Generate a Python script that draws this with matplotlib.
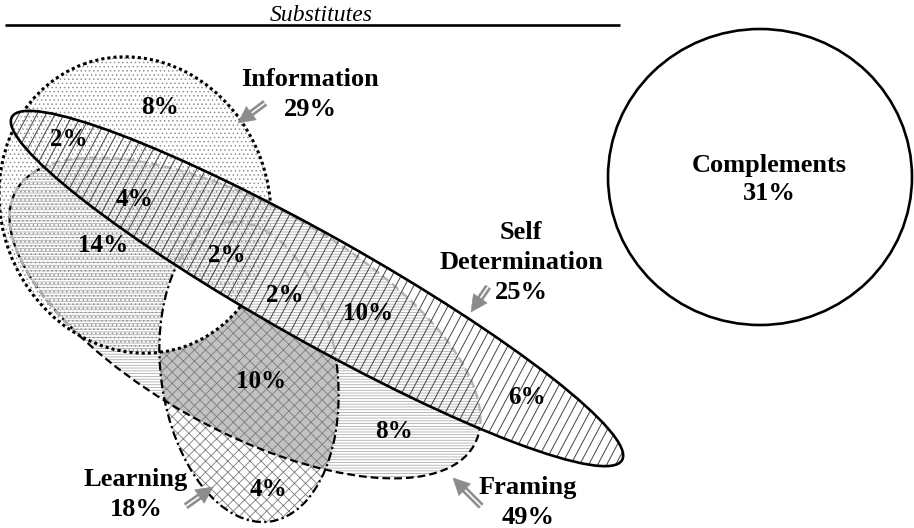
import numpy as np
import matplotlib.pyplot as plt
import matplotlib as mpl
from matplotlib.patches import Ellipse, FancyArrowPatch
from matplotlib.collections import LineCollection

mpl.rcParams['font.family'] = ['Liberation Serif', 'DejaVu Serif']

# ---- data ----
group_title = 'Substitutes'
set_names = ['Information', 'Self\nDetermination', 'Framing', 'Learning', 'Complements']
set_pct = [29, 25, 49, 18, 31]
# Info / Info&SD / Info&SD&Fr / Info&Fr / Info&SD&Fr&Le / SD&Fr&Le / SD&Fr / SD / Fr&Le / Fr / Le
region_pct = [8, 2, 4, 14, 2, 2, 10, 6, 10, 8, 4]

# ---- layout (pixel coordinates, y pointing down) ----
region_xy = [(160, 106), (69, 138), (134, 198), (103, 243), (227, 253), (285, 294),
             (368, 311), (527, 396), (261, 379), (394, 429), (268, 488)]
label_xy = [(310, 77), (521, 230), (528, 485), (136, 477), (769, 163)]
arrow_xy = [((265, 103), (238, 123)), ((488, 287), (471, 312)),
            ((481, 506), (453, 478)), ((186, 506), (213, 487)), None]

INFO = ((135, 205), 268, 300, -20)
SELF = ((317, 288.5), 700, 106, 29.35)
FRAM = ((245, 318), 524, 224, 29)
LEARN = ((249, 372), 176, 302, -8)
COMP = ((760, 177), 304, 296, 0)

fig = plt.figure(figsize=(9.14, 5.28), dpi=100)
ax = fig.add_axes([0, 0, 1, 1])
ax.set_xlim(0, 914)
ax.set_ylim(528, 0)
ax.axis('off')


def clip_of(shape):
    (cx, cy), w, h, a = shape
    return Ellipse((cx, cy), w, h, angle=a, transform=ax.transData)


def ell(shape, z, clip=None, **kw):
    (cx, cy), w, h, a = shape
    e = Ellipse((cx, cy), w, h, angle=a, zorder=z, **kw)
    ax.add_patch(e)
    if clip is not None:
        e.set_clip_path(clip_of(clip))
    return e


mpl.rcParams['hatch.linewidth'] = 0.6

# fills
ell(FRAM, 1, facecolor='white', edgecolor='#adadad', hatch='------', lw=0)
ell(LEARN, 1.5, clip=FRAM, facecolor='#c2c2c2', edgecolor='none', lw=0)
ell(INFO, 2, facecolor='none', edgecolor='#939393', hatch='....', lw=0)
ell(LEARN, 3, facecolor='none', edgecolor='#7c7c7c', hatch='xxx', lw=0)
# empty Information & Learning area
ell(INFO, 4, clip=LEARN, facecolor='white', edgecolor='none', lw=0)

# outlines
dash_fr = (0, (3.5, 1.8))
dash_le = (0, (4, 1.5, 1, 1.5))
ell(FRAM, 5, fill=False, edgecolor='black', lw=1.6, linestyle=dash_fr)
ell(FRAM, 5.1, clip=INFO, fill=False, edgecolor='#b4b4b4', lw=1.7, linestyle=dash_fr)
ell(INFO, 5.2, fill=False, edgecolor='black', lw=2.2, linestyle=(0, (1, 1)))
ell(LEARN, 5.3, fill=False, edgecolor='black', lw=1.6, linestyle=dash_le)

# Self Determination band
ell(SELF, 6, facecolor='white', edgecolor='none', lw=0)
ell(FRAM, 6.1, clip=SELF, facecolor='none', edgecolor='#adadad', hatch='------', lw=0)
ell(INFO, 6.2, clip=SELF, facecolor='none', edgecolor='#939393', hatch='....', lw=0)
ell(FRAM, 6.3, clip=SELF, fill=False, edgecolor='#b4b4b4', lw=1.7, linestyle=dash_fr)
ell(LEARN, 6.4, clip=SELF, fill=False, edgecolor='#b4b4b4', lw=1.7, linestyle=dash_le)

slope = np.tan(np.radians(62))
segs = [[(x0, 528), (x0 + 528 / slope, 0)] for x0 in np.arange(-300, 914, 9.0)]
lc = LineCollection(segs, colors='#444444', linewidths=0.7, zorder=6.5)
ax.add_collection(lc)
lc.set_clip_path(clip_of(SELF))
ell(SELF, 7, fill=False, edgecolor='black', lw=1.9)

# Complements
ell(COMP, 7, fill=False, edgecolor='black', lw=1.9)

# header
ax.plot([5, 620], [25, 25], color='black', lw=1.9, solid_capstyle='butt', zorder=8)
ax.text(321, 21, group_title, fontsize=17, fontstyle='italic', ha='center', va='baseline')

# arrows: grey head, hollow shaft
for a in arrow_xy:
    if a is None:
        continue
    (x0, y0), (x1, y1) = a
    arr = FancyArrowPatch((x0, y0), (x1, y1),
                          arrowstyle='simple,head_length=0.85,head_width=0.85,tail_width=0.32',
                          mutation_scale=14, facecolor='#8c8c8c', edgecolor='#8c8c8c', lw=0.4,
                          shrinkA=0, shrinkB=0, zorder=9)
    ax.add_patch(arr)
    L = np.hypot(x1 - x0, y1 - y0)
    f = max(0.0, (L - 17) / L)
    ax.plot([x0, x0 + f * (x1 - x0)], [y0, y0 + f * (y1 - y0)], color='white', lw=1.2,
            solid_capstyle='butt', zorder=9.5)

# texts
for (x, y), p in zip(region_xy, region_pct):
    ax.text(x, y + 8.5, f'{p}%', fontsize=18, fontweight='bold', ha='center', va='baseline', zorder=20)

for name, p, (x, y) in zip(set_names, set_pct, label_xy):
    lines = name.split('\n') + [f'{p}%']
    step = 28 if name == 'Complements' else 30
    for i, s in enumerate(lines):
        ax.text(x, y + 9 + i * step, s, fontsize=19, fontweight='bold', ha='center', va='baseline', zorder=20)

fig.savefig('out.png', dpi=100)
